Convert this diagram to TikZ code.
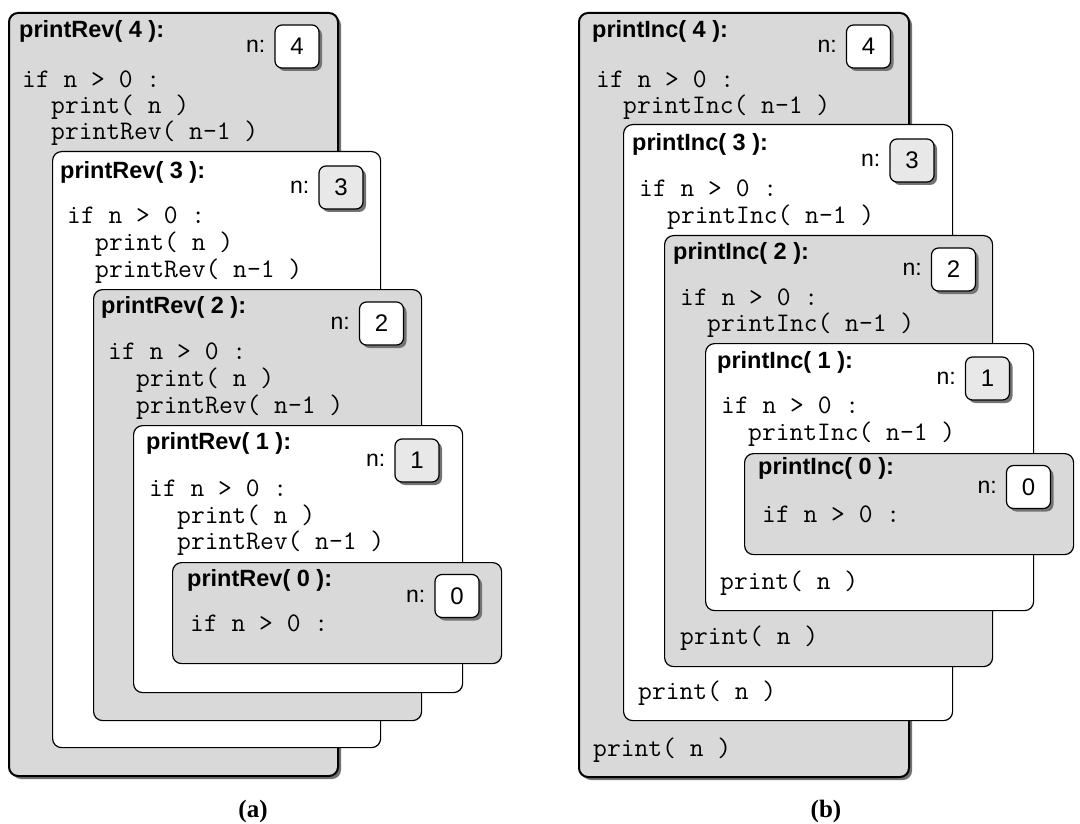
\documentclass[tikz,border=0pt]{standalone}
\usepackage{fontspec}
\setmainfont{Liberation Serif}
\setsansfont{Liberation Sans}
\usepackage{tikz}
\usetikzlibrary{positioning,shadows}
\usepackage{xcolor}
\definecolor{framegray}{RGB}{217,217,217}
\definecolor{boxgray}{RGB}{232,232,232}

\begin{document}
\begin{tikzpicture}[x=1pt, y=-1pt, every node/.style={inner sep=0pt},
    callframe/.style={draw, line width=1.2pt, rounded corners=9pt, anchor=north west},
    outerframe/.style={line width=2pt, drop shadow={shadow xshift=3pt, shadow yshift=-3pt, fill=black!55, opacity=1}},
    valbox/.style={draw, line width=1.2pt, rounded corners=7pt, minimum width=44, minimum height=43,
        font=\fontsize{24}{28}\selectfont\sffamily,
        drop shadow={shadow xshift=3pt, shadow yshift=-3pt, fill=black!55, opacity=1}},
    calltitle/.style={anchor=west, font=\fontsize{23.5}{27}\selectfont\sffamily\bfseries},
    codeline/.style={anchor=west, font=\fontsize{26.8}{30}\selectfont\ttfamily},
    nlabel/.style={font=\fontsize{23}{27}\selectfont\sffamily},
    capt/.style={font=\fontsize{25}{30}\selectfont\rmfamily\bfseries}]
    \useasboundingbox (0,0) rectangle (1080,824);

    % (a) printRev
    \node[callframe, outerframe, fill=framegray, minimum width=329, minimum height=763] (fa4) at (8,12) {};
    \node[calltitle] (ta4) at (19,31) {printRev( 4 ):};
    \node[valbox, fill=white] (va4) at (297,46.5) {4};
    \node[nlabel, left=9pt of va4] (na4) {n:};
    \node[codeline] (ia4) at (22,79) {if n > 0 :};
    \node[codeline] (pa4) at (51,107) {print( n )};
    \node[codeline] (ra4) at (51,133) {printRev( n-1 )};

    \node[callframe, fill=white, minimum width=328, minimum height=596] (fa3) at (52,151) {};
    \node[calltitle] (ta3) at (60,172) {printRev( 3 ):};
    \node[valbox, fill=boxgray] (va3) at (341,187.5) {3};
    \node[nlabel, left=9pt of va3] (na3) {n:};
    \node[codeline] (ia3) at (67,215) {if n > 0 :};
    \node[codeline] (pa3) at (95,244) {print( n )};
    \node[codeline] (ra3) at (95,271) {printRev( n-1 )};

    \node[callframe, fill=framegray, minimum width=328, minimum height=431] (fa2) at (93,289) {};
    \node[calltitle] (ta2) at (101,307) {printRev( 2 ):};
    \node[valbox, fill=white] (va2) at (381.5,323.5) {2};
    \node[nlabel, left=9pt of va2] (na2) {n:};
    \node[codeline] (ia2) at (108,351) {if n > 0 :};
    \node[codeline] (pa2) at (136,380) {print( n )};
    \node[codeline] (ra2) at (136,407) {printRev( n-1 )};

    \node[callframe, fill=white, minimum width=329, minimum height=267] (fa1) at (133,425) {};
    \node[calltitle] (ta1) at (146,443) {printRev( 1 ):};
    \node[valbox, fill=boxgray] (va1) at (417,460.5) {1};
    \node[nlabel, left=9pt of va1] (na1) {n:};
    \node[codeline] (ia1) at (149,488) {if n > 0 :};
    \node[codeline] (pa1) at (177,517) {print( n )};
    \node[codeline] (ra1) at (177,543) {printRev( n-1 )};

    \node[callframe, fill=framegray, minimum width=329, minimum height=101] (fa0) at (172,562) {};
    \node[calltitle] (ta0) at (187,580) {printRev( 0 ):};
    \node[valbox, fill=white] (va0) at (457,596) {0};
    \node[nlabel, left=9pt of va0] (na0) {n:};
    \node[codeline] (ia0) at (190,623) {if n > 0 :};

    \node[capt] (capa) at (253,811) {(a)};

    % (b) printInc
    \node[callframe, outerframe, fill=framegray, minimum width=330, minimum height=764] (fb4) at (578,12) {};
    \node[calltitle] (tb4) at (592,31) {printInc( 4 ):};
    \node[valbox, fill=white] (vb4) at (868.5,46.5) {4};
    \node[nlabel, left=9pt of vb4] (nb4) {n:};
    \node[codeline] (ib4) at (596,79) {if n > 0 :};
    \node[codeline] (rb4) at (623,107) {printInc( n-1 )};
    \node[codeline] (pb4) at (593,750) {print( n )};

    \node[callframe, fill=white, minimum width=329, minimum height=596] (fb3) at (623,124) {};
    \node[calltitle] (tb3) at (632,144) {printInc( 3 ):};
    \node[valbox, fill=boxgray] (vb3) at (912,160.5) {3};
    \node[nlabel, left=9pt of vb3] (nb3) {n:};
    \node[codeline] (ib3) at (639,188) {if n > 0 :};
    \node[codeline] (rb3) at (667,217) {printInc( n-1 )};
    \node[codeline] (pb3) at (638,693) {print( n )};

    \node[callframe, fill=framegray, minimum width=328, minimum height=431] (fb2) at (664,235) {};
    \node[calltitle] (tb2) at (673,253) {printInc( 2 ):};
    \node[valbox, fill=white] (vb2) at (953.5,269.5) {2};
    \node[nlabel, left=9pt of vb2] (nb2) {n:};
    \node[codeline] (ib2) at (680,297) {if n > 0 :};
    \node[codeline] (rb2) at (707,325) {printInc( n-1 )};
    \node[codeline] (pb2) at (680,638) {print( n )};

    \node[callframe, fill=white, minimum width=328, minimum height=267] (fb1) at (705,343) {};
    \node[calltitle] (tb1) at (717,362) {printInc( 1 ):};
    \node[valbox, fill=boxgray] (vb1) at (987.5,378.5) {1};
    \node[nlabel, left=9pt of vb1] (nb1) {n:};
    \node[codeline] (ib1) at (721,405) {if n > 0 :};
    \node[codeline] (rb1) at (748,434) {printInc( n-1 )};
    \node[codeline] (pb1) at (720,583) {print( n )};

    \node[callframe, fill=framegray, minimum width=329, minimum height=101] (fb0) at (744,453) {};
    \node[calltitle] (tb0) at (758,468) {printInc( 0 ):};
    \node[valbox, fill=white] (vb0) at (1028.5,487) {0};
    \node[nlabel, left=9pt of vb0] (nb0) {n:};
    \node[codeline] (ib0) at (762,514) {if n > 0 :};

    \node[capt] (capb) at (826,811) {(b)};
\end{tikzpicture}
\end{document}
